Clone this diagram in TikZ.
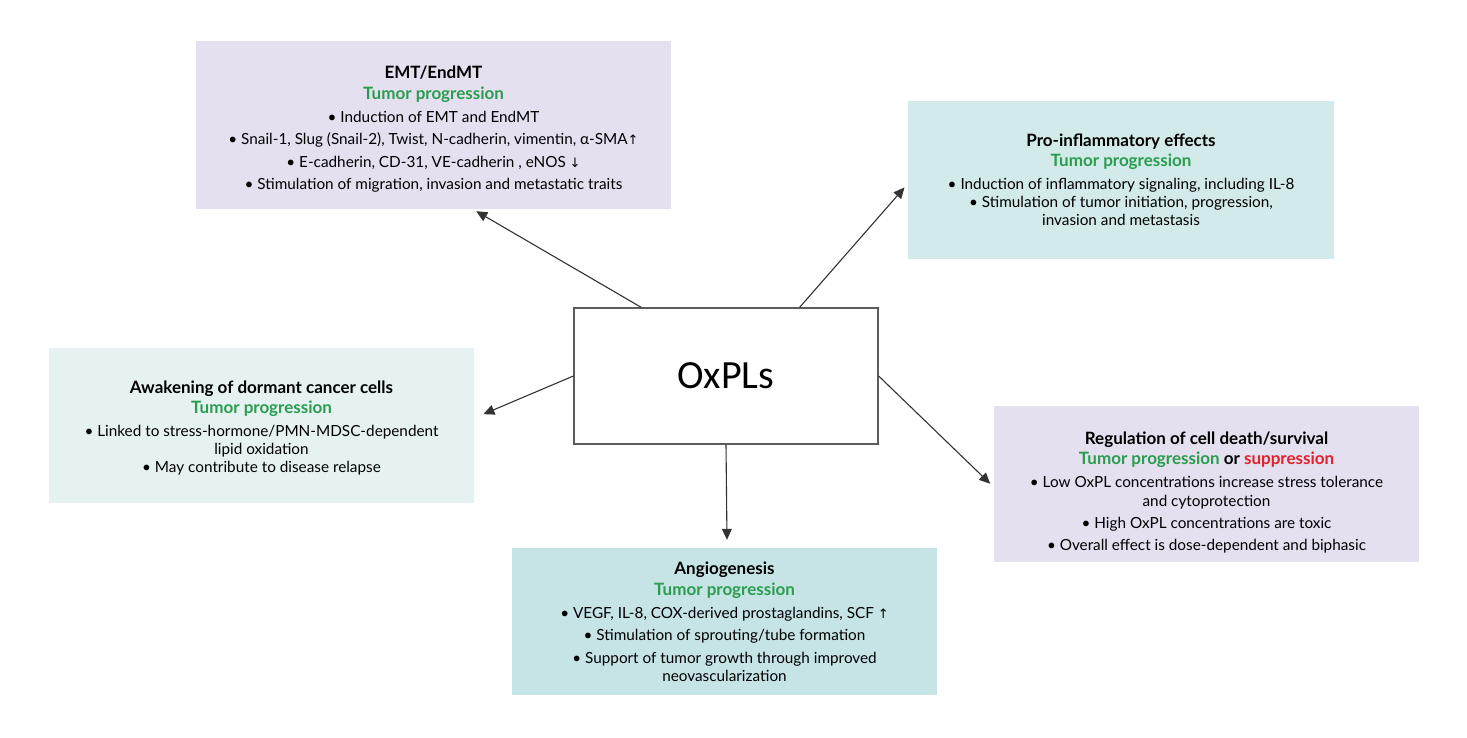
\documentclass[tikz,border=0pt]{standalone}
\usepackage{fontspec}
\setmainfont{Lato}
\newfontfamily\oxfont{Carlito}
\newfontfamily\arrfont{DejaVu Sans}
\usetikzlibrary{arrows.meta}

\definecolor{lavfill}{HTML}{E4E0F0}
\definecolor{tealfill}{HTML}{D2EAEA}
\definecolor{palefill}{HTML}{E6F2F2}
\definecolor{angfill}{HTML}{C6E4E5}
\definecolor{progreen}{HTML}{2A9D4E}
\definecolor{supred}{HTML}{E0222C}
\definecolor{linegray}{HTML}{333333}

\newcommand{\boxhead}[1]{{\fontsize{17}{18}\selectfont\bfseries #1}}
\newcommand{\tumprog}{{\fontsize{17}{18}\selectfont\bfseries\color{progreen}Tumor progression}}
\newcommand{\up}{{\arrfont\fontsize{13}{14}\selectfont ↑}}
\newcommand{\down}{{\arrfont\fontsize{13}{14}\selectfont ↓}}
\newcommand{\toppad}[1]{\rule{0pt}{#1}}

\begin{document}
\begin{tikzpicture}[x=1pt,y=-1pt,
    effect/.style={align=center,inner sep=0pt,
      font=\fontsize{15.3}{18}\selectfont,text=black},
    lavbox/.style={effect,fill=lavfill,minimum width=425pt,minimum height=156pt},
    tealbox/.style={effect,fill=tealfill,minimum width=426pt,minimum height=158pt},
    palebox/.style={effect,fill=palefill,minimum width=425pt,minimum height=155pt},
    angbox/.style={effect,fill=angfill,minimum width=425pt,minimum height=147pt},
    hub/.style={draw=linegray!80,line width=1.3pt,fill=white,
      minimum width=304pt,minimum height=136pt,font=\oxfont\fontsize{40}{48}\selectfont},
    effarrow/.style={draw=linegray,line width=1.1pt,-{Triangle[length=11pt,width=10pt]}}]

  \fill[white] (0,0) rectangle (1467,738);
  \useasboundingbox (0,0) rectangle (1467,738);

  % central box
  \node[hub] (ox) at (726,376) {OxPLs};

  % effect boxes
  \node[lavbox,minimum width=475pt,minimum height=168pt] (emt) at (433.5,125)
    {\toppad{21pt}\boxhead{EMT/EndMT}\\[3pt] \tumprog\\[4.5pt]
     \textbullet{} Induction of EMT and EndMT\\[4.5pt]
     \textbullet{} Snail-1, Slug (Snail-2), Twist, N-cadherin, vimentin, α-SMA\up\\[4.5pt]
     \textbullet{} E-cadherin, CD-31, VE-cadherin , eNOS \down\\[4.5pt]
     \textbullet{} Stimulation of migration, invasion and metastatic traits};

  \node[tealbox] (infl) at (1121,180)
    {\boxhead{Pro-inflammatory effects}\\[2pt] \tumprog\\[5pt]
     \textbullet{} Induction of inflammatory signaling, including IL-8\\
     \textbullet{} Stimulation of tumor initiation, progression,\\
     invasion and metastasis};

  \node[palebox] (wake) at (261.5,425.5)
    {\toppad{17pt}\boxhead{Awakening of dormant cancer cells}\\[2pt] \tumprog\\[5pt]
     \textbullet{} Linked to stress-hormone/PMN-MDSC-dependent\\
     lipid oxidation\\
     \textbullet{} May contribute to disease relapse};

  \node[lavbox] (death) at (1206.5,483.5)
    {\toppad{30pt}\boxhead{Regulation of cell death/survival}\\[2pt]
     {\fontsize{17}{18}\selectfont\bfseries\color{progreen}Tumor progression
      \color{black}or \color{supred}suppression}\\[5pt]
     \textbullet{} Low OxPL concentrations increase stress tolerance\\[1pt]
     and cytoprotection\\[4pt]
     \textbullet{} High OxPL concentrations are toxic\\[4pt]
     \textbullet{} Overall effect is dose-dependent and biphasic};

  \node[angbox] (angio) at (724.5,621.5)
    {\boxhead{Angiogenesis}\\[3pt] \tumprog\\[5pt]
     \textbullet{} VEGF, IL-8, COX-derived prostaglandins, SCF \up\\[4.5pt]
     \textbullet{} Stimulation of sprouting/tube formation\\[4.5pt]
     \textbullet{} Support of tumor growth through improved\\
     neovascularization};

  % connectors
  \draw[effarrow,shorten >=4pt] (ox.141) -- (emt.-65);
  \draw[effarrow,shorten >=5pt] (ox.43) -- (infl.181);
  \draw[effarrow,shorten >=10pt] (ox.180) -- (wake.2);
  \draw[effarrow,shorten >=5pt] (ox.0) -- (death.-179);
  \draw[effarrow,shorten >=8pt] (ox.270) -- (angio.88);
\end{tikzpicture}
\end{document}
